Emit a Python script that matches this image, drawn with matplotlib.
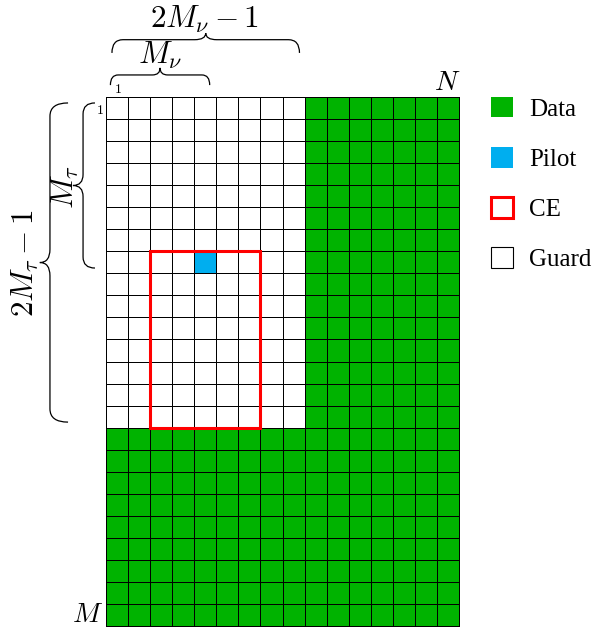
import numpy as np
import matplotlib
matplotlib.use("Agg")
import matplotlib.pyplot as plt
from matplotlib.colors import ListedColormap
from matplotlib.patches import Rectangle, Patch
from matplotlib.path import Path
from matplotlib.patches import PathPatch

plt.rcParams['mathtext.fontset'] = 'cm'

# ---- data ----
N_cols = 16          # N (delay-Doppler grid width)
M_rows = 24          # M (grid height)
M_nu = 5             # Doppler spread span
M_tau = 8            # delay spread span
guard_cols = 2 * M_nu - 1
guard_rows = 2 * M_tau - 1
pilot_pos = (7, 4)   # (row, col)
ce_origin = (7, 2)   # (row, col)
ce_size = (M_tau, M_nu)  # (rows, cols)
legend_labels = ["Data", "Pilot", "CE", "Guard"]

GREEN = "#00b300"
BLUE = "#00aeef"
RED = "#ff0000"

# build cell category grid: 0 guard, 1 data, 2 pilot
grid = np.ones((M_rows, N_cols))
grid[:guard_rows, :guard_cols] = 0
grid[pilot_pos[0], pilot_pos[1]] = 2

fig = plt.figure(figsize=(5.95, 6.28), dpi=100)
ax = fig.add_axes([106 / 595, 2 / 628, 353 / 595, 529 / 628])
ax.set_xlim(0, N_cols)
ax.set_ylim(M_rows, 0)
ax.axis('off')

cmap = ListedColormap(["white", GREEN, BLUE])
mesh = ax.pcolormesh(np.arange(N_cols + 1), np.arange(M_rows + 1), grid,
                     cmap=cmap, vmin=-0.5, vmax=2.5,
                     edgecolors="black", linewidth=0.7)
mesh.set_clip_on(False)

ax.add_patch(Rectangle((ce_origin[1], ce_origin[0]), ce_size[1], ce_size[0],
                       fill=False, ec=RED, lw=2.2, zorder=4, clip_on=False))


def brace(ax, s0, s1, t_end, t_flat, t_tip, horizontal=True, q=None):
    sm = 0.5 * (s0 + s1)
    if q is None:
        q = 0.35
    pts = [(s0, t_end), (s0, t_flat), (s0 + q, t_flat),
           (sm - q, t_flat),
           (sm, t_flat), (sm, t_tip),
           (sm, t_flat), (sm + q, t_flat),
           (s1 - q, t_flat),
           (s1, t_flat), (s1, t_end)]
    codes = [Path.MOVETO, Path.CURVE3, Path.CURVE3,
             Path.LINETO,
             Path.CURVE3, Path.CURVE3,
             Path.CURVE3, Path.CURVE3,
             Path.LINETO,
             Path.CURVE3, Path.CURVE3]
    if not horizontal:
        pts = [(t, s) for s, t in pts]
    ax.add_patch(PathPatch(Path(pts, codes), fill=False, lw=0.9,
                           ec="black", clip_on=False))


# top braces
brace(ax, 0.2, M_nu - 0.3, -0.54, -1.0, -1.32, True)
brace(ax, 0.27, guard_cols - 0.23, -2.0, -2.6, -2.9, True, q=0.5)
# left braces
brace(ax, 0.27, M_tau - 0.24, -0.5, -1.04, -1.5, False, q=0.5)
brace(ax, 0.27, guard_rows - 0.25, -1.72, -2.54, -3.0, False, q=0.6)

kw = dict(ha="center", va="center", clip_on=False)
ax.text(4.49, -3.54, r"$2M_\nu-1$", fontsize=22.5, **kw)
ax.text(2.45, -1.9, r"$M_\nu$", fontsize=22.5, **kw)
ax.text(-1.85, 4.08, r"$M_\tau$", fontsize=22.5, rotation=90, **kw)
ax.text(-3.67, 7.53, r"$2M_\tau-1$", fontsize=22.5, rotation=90, **kw)
ax.text(15.46, -0.68, r"$N$", fontsize=20, **kw)
ax.text(-0.82, 23.46, r"$M$", fontsize=20, **kw)
ax.text(0.52, -0.35, r"$1$", fontsize=10, **kw)
ax.text(-0.27, 0.57, r"$1$", fontsize=10, **kw)

handles = [Patch(fc=GREEN, ec="none"),
           Patch(fc=BLUE, ec="none"),
           Patch(fc="white", ec=RED, lw=2.2),
           Patch(fc="white", ec="black", lw=0.8)]
fs = 18
fs_px = fs * 100 / 72
leg = fig.legend(handles, legend_labels, loc="upper left",
                 bbox_to_anchor=(491 / 595, 1 - 97 / 628),
                 bbox_transform=fig.transFigure, frameon=False,
                 borderpad=0, borderaxespad=0,
                 handlelength=22 / fs_px, handleheight=22 / fs_px,
                 handletextpad=16 / fs_px,
                 labelspacing=1.05,
                 prop={"family": "Liberation Serif", "size": fs})

fig.savefig("out.png", dpi=100)
